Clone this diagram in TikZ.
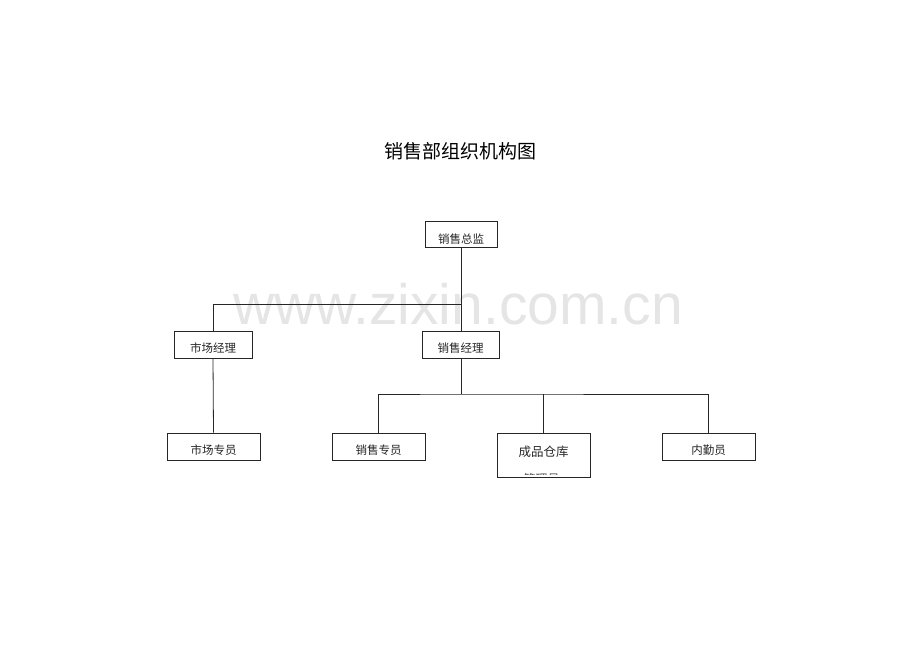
\documentclass[tikz,border=0pt]{standalone}
\usepackage{fontspec}
\newfontfamily\cjk{Noto Sans CJK SC}
\newfontfamily\wmfont{Liberation Sans}
\begin{document}
\begin{tikzpicture}[x=1pt,y=-1pt,
  orgbox/.style={draw=black!85, line width=0.8pt, fill=white, inner sep=0pt},
  boxtext/.style={font=\cjk\fontsize{11.5}{13}\selectfont, text=black!85, inner sep=0pt},
  link/.style={draw=black!85, line width=0.8pt}]
\useasboundingbox (0,0) rectangle (920,651);
% watermark
\node[font=\wmfont\fontsize{57}{60}\selectfont, text=black!10, anchor=base] (wm) at (458,324) {www.zixin.com.cn};
% title
\node[font=\cjk\fontsize{19}{22}\selectfont] (title) at (460,151) {销售部组织机构图};
% boxes
\node[orgbox, minimum width=72pt, minimum height=26pt] (zj) at (461,234) {};
\node[orgbox, minimum width=78pt, minimum height=27pt] (sc) at (213,344.5) {};
\node[orgbox, minimum width=77pt, minimum height=27pt] (xj) at (460.5,344.5) {};
\node[orgbox, minimum width=93pt, minimum height=27pt] (sy) at (213.5,446.5) {};
\node[orgbox, minimum width=93pt, minimum height=27pt] (xy) at (378.5,446.5) {};
\node[orgbox, minimum width=93pt, minimum height=44pt] (cp) at (543.5,455) {};
\node[orgbox, minimum width=93pt, minimum height=27pt] (ny) at (708.5,446.5) {};
% box texts
\node[boxtext] (zjt) at ([yshift=-5pt]zj.center) {销售总监};
\node[boxtext] (sct) at ([yshift=-3.5pt]sc.center) {市场经理};
\node[boxtext] (xjt) at ([yshift=-3.5pt]xj.center) {销售经理};
\node[boxtext] (syt) at ([yshift=-3.5pt]sy.center) {市场专员};
\node[boxtext] (xyt) at ([yshift=-3.5pt]xy.center) {销售专员};
\node[boxtext] (nyt) at ([yshift=-3.5pt]ny.center) {内勤员};
% warehouse box text, second line clipped by the box
\begin{scope}
  \clip ([xshift=1pt,yshift=-1pt]cp.north west) rectangle ([xshift=-1pt,yshift=2.5pt]cp.south east);
  \node[font=\cjk\fontsize{12.5}{14}\selectfont, text=black!85] (cpt) at (543.5,452) {成品仓库};
  \node[font=\cjk\fontsize{12}{14}\selectfont, text=black!70] (cpt2) at (541.5,479) {管理员};
\end{scope}
% connectors
\coordinate (j1) at (461,304);
\coordinate (j2) at (461,394);
\draw[link] (zj.south) -- (zj.south |- xj.north);
\draw[link] (sc.north) |- (j1);
\draw[link] (sc.south) -- (sy.north);
\draw[link] (xj.south -| j2) -- (j2);
\draw[link] (xy.north) |- (j2) -| (ny.north);
\draw[link] (cp.north) -- (cp.north |- j2);
\end{tikzpicture}
\end{document}
